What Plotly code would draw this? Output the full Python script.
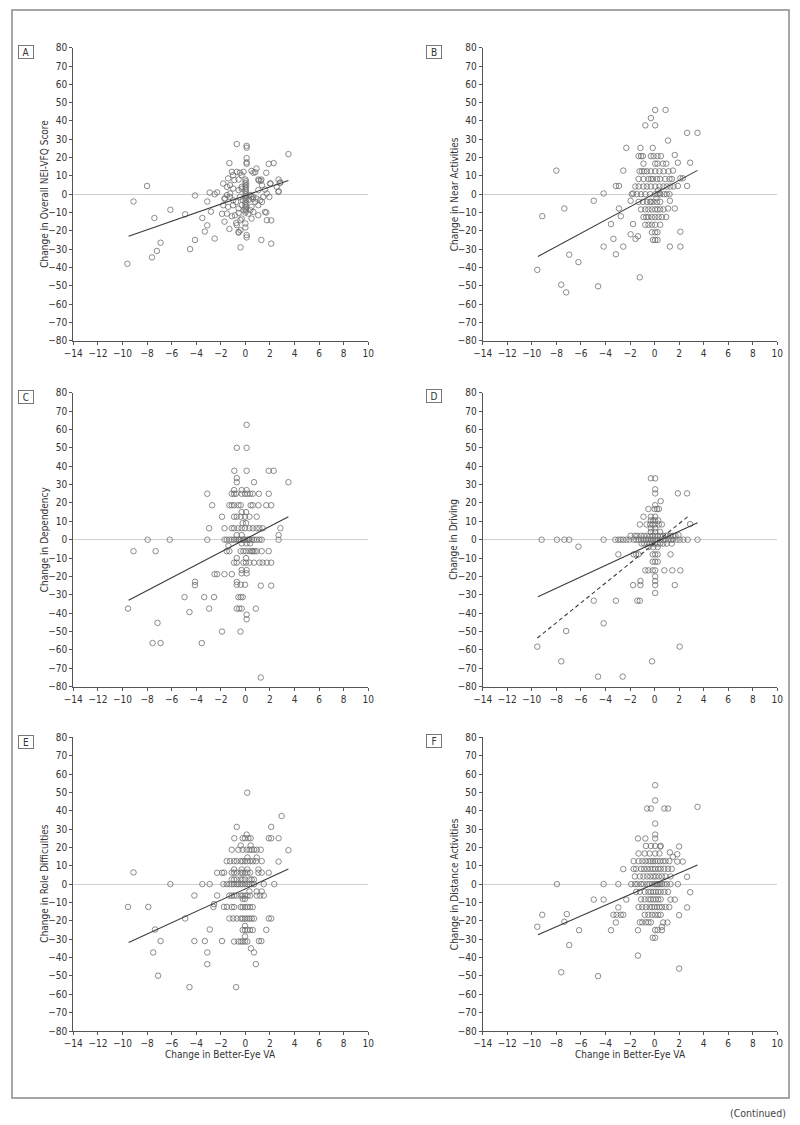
import plotly.graph_objects as go

W, H = 800, 1125

# ---------------- data ----------------
x_ticks = [-14, -12, -10, -8, -6, -4, -2, 0, 2, 4, 6, 8, 10]
y_ticks = [-80, -70, -60, -50, -40, -30, -20, -10, 0, 10, 20, 30, 40, 50, 60, 70, 80]

panel_letters = ["A", "B", "C", "D", "E", "F"]
y_titles = ["Change in Overall NEI-VFQ Score", "Change in Near Activities",
            "Change in Dependency", "Change in Driving",
            "Change in Role Difficulties", "Change in Distance Activities"]
x_title = "Change in Better-Eye VA"

a_pts = [(-8.0, 4.5), (-9.1, -4), (-9.6, -38), (-7.6, -34.5), (-7.2, -31), (-6.9, -26.5), (-7.4, -13),
         (-6.1, -8.5), (-4.9, -11), (-4.1, -0.7), (-4.1, -25), (-4.5, -30), (-3.5, -13), (-3.3, -20.4),
         (-3.1, -17), (-3.1, -4), (-2.9, 0.9), (-2.8, -9.5), (-2.5, 0), (-2.3, 1), (-2.5, -24.2),
         (-1.9, -10.7), (-1.7, -15), (-1.65, -2.4), (-1.3, -19), (-1.3, 17), (-0.7, 27.4), (0.1, 26.4),
         (0.1, 25.4), (0.1, 19.7), (0.1, 17.4), (0.1, 16.6), (-0.4, -29), (-0.55, -21), (0.1, -22.3),
         (0.1, -23.6), (0.8, 12), (0.9, 14), (1.9, 16.6), (2.3, 17), (3.5, 21.9), (2.7, 8), (2.05, 5.9),
         (2.7, 1.6), (2.85, 6.4), (1.7, 11.7), (1.3, -25), (2.1, -27), (2.1, -14.3), (1.7, -10), (1.1, 7.5),
         (1.3, 8),
         (0.5, 12.7), (0.65, 11.7), (-1.1, 12.2), (-0.7, 12.2), (-0.45, 11.7), (-0.15, 12.2), (-1.0, 10.4),
         (-0.3, 10.4), (-1.4, 8.6), (-0.9, 7.7), (-0.55, 8), (1.05, 8), (1.25, 7.3), (2.0, 5.8), (2.8, 6.2),
         (2.55, 4), (2.7, 1.3), (1.05, 2.2), (-1.8, 5.8), (-1.5, 4), (-1.25, 4.9), (-1.0, 3.1), (-0.55, 2.2),
         (-0.3, 4), (-1.7, -2.4), (-1.25, -1.5), (-1.0, -3.3), (-0.75, -4.2), (-0.45, -1.5), (-0.2, -3.3),
         (0.4, -0.5), (0.65, -1.5), (0.9, -2.4), (1.2, -3.3), (1.45, -1.5), (1.75, 0.4), (1.95, -1.5),
         (0.8, -4.2), (1.05, -6), (1.35, -4.2), (-1.8, -6), (-1.4, -6.9), (-1.0, -6), (-0.55, -7.8),
         (-0.3, -6), (-0.15, -8.7), (-1.5, -10.6), (-1.1, -12), (-0.85, -11.5), (-0.55, -10.2),
         (-0.3, -13.3), (-0.4, -14.2), (0.25, -10.6), (0.5, -13.3), (0.65, -9.7), (1.05, -11.5),
         (1.6, -9.7), (1.75, -14.2), (-0.75, -15.7), (-0.7, -16.9), (0.0, -16), (0.0, -18.2),
         (-0.55, -20.6), (-0.4, -19.7), (0.4, -8.7), (0.5, -6.9), (-1.25, 0.4), (-1.5, -0.5), (1.35, 4.9),
         (1.6, 2.5),
         (0.0, 8), (0.05, 7), (0.0, 6), (0.05, 5), (0.0, 4), (0.05, 3), (0.0, 2), (0.05, 1), (0.0, 0),
         (0.05, -1), (0.0, -2), (0.05, -3), (0.0, -4), (0.05, -5), (0.0, -6), (0.05, -7), (0.0, -8),
         (0.05, -9), (0.0, -10), (-0.3, 3), (0.5, -1.5), (0.6, -2.5), (0.3, -3)]

b_pts = [(-8.0, 12.9), (-9.15, -12), (-9.55, -41.3), (-7.6, -49.4), (-7.2, -53.6), (-6.95, -33), (-7.35, -7.8),
         (-6.2, -37.1), (-4.6, -50.3), (-4.95, -3.6), (-4.15, 0.4), (-4.15, -28.6), (-3.55, -16.3),
         (-3.35, -24.4), (-3.15, -32.8), (-3.15, 4.5), (-2.9, 4.5), (-2.9, -7.8), (-2.75, -12), (-2.55, 12.9),
         (-2.55, -28.6), (-2.3, 25.3), (-1.95, -3.6), (-1.95, -21.9), (-1.75, 0.4), (-1.75, -16.3),
         (-1.55, -24.4), (-1.35, -23), (-1.2, -45.4), (-1.15, 25.3), (-0.15, 25.3), (-0.3, 41.6), (0.05, 46),
         (0.9, 46), (-0.75, 37.6), (0.05, 37.6), (1.1, 29.3), (2.65, 33.5), (3.5, 33.5), (2.9, 17.2),
         (1.9, 17.2), (1.65, 21.4), (2.65, 4.5), (2.3, 8.7), (2.1, 8.7), (1.9, 4.5), (1.65, -7.8), (2.1, -20.5),
         (2.1, -28.6), (1.25, -28.6), (1.5, 12.9), (1.25, -3.6), (1.1, -7.8),
         (-1.3, 20.8), (-1.1, 20.8), (-0.95, 20.8), (-0.3, 20.8), (-0.08, 20.8), (0.24, 20.8), (0.52, 20.8),
         (-0.9, 16.7), (0.05, 16.7), (0.24, 16.7), (0.68, 16.7), (0.95, 16.7),
         (-1.22, 12.5), (-1.03, 12.5), (-0.84, 12.5), (-0.62, 12.5), (-0.3, 12.5), (0.05, 12.5), (0.4, 12.5),
         (0.73, 12.5), (1.14, 12.5),
         (-1.3, 8.3), (-0.9, 8.3), (-0.5, 8.3), (-0.3, 8.3), (-0.13, 8.3), (0.2, 8.3), (0.46, 8.3), (0.87, 8.3),
         (1.22, 8.3), (1.41, 8.3),
         (-1.57, 4.2), (-1.3, 4.2), (-0.9, 4.2), (-0.62, 4.2), (-0.3, 4.2), (0.05, 4.2), (0.4, 4.2), (0.73, 4.2),
         (1.0, 4.2), (1.28, 4.2), (1.55, 4.2),
         (-1.85, 0), (-1.44, 0), (-1.1, 0), (-0.76, 0), (-0.35, 0), (0.05, 0), (0.24, 0), (0.46, 0), (0.79, 0),
         (1.0, 0), (1.22, 0),
         (-1.3, -4.2), (-0.95, -4.2), (-0.62, -4.2), (-0.35, -4.2), (-0.08, -4.2), (0.2, -4.2), (0.46, -4.2),
         (-1.1, -8.3), (-0.76, -8.3), (-0.5, -8.3), (-0.22, -8.3), (0.05, -8.3), (0.24, -8.3), (0.46, -8.3),
         (0.73, -8.3),
         (-0.9, -12.5), (-0.68, -12.5), (-0.5, -12.5), (-0.22, -12.5), (0.05, -12.5), (0.33, -12.5),
         (0.6, -12.5), (0.95, -12.5),
         (-0.76, -16.7), (-0.5, -16.7), (-0.22, -16.7), (0.05, -16.7), (0.46, -16.7),
         (-0.22, -20.8), (0.05, -20.8), (0.24, -20.8), (-0.13, -25), (0.05, -25), (0.24, -25),
         (0.3, 2.1), (0.4, 0.5), (-0.3, -4.2), (0.15, -2.1)]

c_pts = [(0.1, 62.5), (-0.7, 50), (0.1, 50), (-0.9, 37.5), (0.1, 37.5), (1.9, 37.5), (2.3, 37.5), (-0.7, 33.5),
         (-0.7, 31.3), (0.7, 31.3), (3.5, 31.3), (-3.1, 25), (-2.7, 18.75), (-1.9, 12.5), (-2.95, 6.25),
         (-3.1, 0), (-7.95, 0), (-6.15, 0), (-9.1, -6.25), (-7.3, -6.25), (-9.55, -37.5), (-7.15, -45.3),
         (-7.55, -56.25), (-6.9, -56.25), (-3.55, -56.25), (-4.55, -39.4), (-2.95, -37.5), (-4.1, -22.9),
         (-4.1, -24.7), (-4.95, -31.25), (-3.35, -31.25), (-2.55, -31.25), (-1.9, -50), (-0.4, -50),
         (-2.5, -18.75), (-2.3, -18.75), (-1.7, -18.75), (-1.1, -18.75), (-0.7, -37.5), (-0.5, -37.5),
         (-0.3, -37.5), (0.1, -40.8), (0.1, -43.3), (0.85, -37.5), (1.25, -75), (2.1, -25), (1.25, -25),
         (1.9, -6.25), (2.1, -12.5), (1.75, -12.5), (1.4, -12.5), (1.15, -12.5), (2.7, 0), (2.7, 2.5),
         (2.85, 6.25), (2.1, 18.75), (1.7, 18.75), (1.1, 25), (1.9, 25), (0.1, 27),
         (-1.11, 25), (-0.92, 25), (-0.76, 25), (-0.3, 25), (-0.03, 25), (0.16, 25), (0.38, 25), (0.6, 25),
         (-0.92, 27), (-0.3, 27),
         (-1.3, 18.75), (-1.11, 18.75), (-0.92, 18.75), (-0.57, 18.75), (-0.38, 18.75), (0.43, 18.75),
         (0.6, 18.75), (1.06, 18.75),
         (-0.3, 15), (0.05, 15),
         (-0.92, 12.5), (-0.7, 12.5), (-0.38, 12.5), (-0.03, 12.5), (0.33, 12.5), (0.92, 12.5),
         (-0.22, 9), (0.05, 9),
         (-1.7, 6.25), (-1.11, 6.25), (-0.92, 6.25), (-0.57, 6.25), (-0.3, 6.25), (-0.03, 6.25), (0.33, 6.25),
         (0.6, 6.25), (0.92, 6.25), (1.14, 6.25), (1.41, 6.25),
         (-0.7, 2.5), (-0.3, 2.5),
         (-1.7, 0), (-1.52, 0), (-1.3, 0), (-1.11, 0), (-0.92, 0), (-0.76, 0), (-0.57, 0), (-0.38, 0),
         (-0.22, 0), (-0.03, 0), (0.16, 0), (0.33, 0), (0.51, 0), (0.7, 0), (0.92, 0), (1.14, 0), (1.33, 0),
         (-0.5, 0), (-0.1, 0), (0.25, 0),
         (-1.38, -3.3), (-0.3, -2), (0.1, -2), (0.38, -2),
         (-1.52, -6.25), (-1.3, -6.25), (-0.38, -6.25), (-0.16, -6.25), (0.05, -6.25), (0.33, -6.25),
         (0.51, -6.25), (0.6, -6.25), (0.75, -6.25), (0.92, -6.25), (1.33, -6.25),
         (-0.7, -10), (0.05, -10),
         (-0.92, -12.5), (-0.7, -12.5), (-0.16, -12.5), (0.05, -12.5), (0.33, -12.5), (0.7, -12.5),
         (-0.3, -16.5), (0.1, -16.5), (-0.3, -18.3), (0.1, -18.3),
         (-0.7, -23), (-0.7, -24.5), (-0.38, -24.5), (-0.03, -24.5),
         (-0.57, -31.25), (-0.38, -31.25), (-0.22, -31.25)]

d_pts = [(-9.2, 0), (-7.95, 0), (-7.35, 0), (-6.95, 0), (-4.15, 0), (-3.2, 0), (-2.95, 0), (-2.75, 0), (-2.55, 0),
         (-2.3, 0), (-2.05, 0), (-6.2, -3.8), (-2.95, -8), (-9.55, -58.2), (-7.6, -66.2), (-7.2, -49.7),
         (-4.6, -74.5), (-2.6, -74.5), (-4.15, -45.5), (-4.95, -33.2), (-3.15, -33.2), (-1.4, -33.2),
         (-1.2, -33.2), (-1.75, -24.7), (-1.15, -24.7), (-1.15, -22.5), (0.05, -24.7), (0.05, -22.5),
         (0.05, -20), (0.05, -29), (1.65, -24.7), (-0.2, -66.2), (2.05, -58.2), (0.8, -16.7), (1.45, -16.7),
         (2.1, -16.7), (-0.75, -16.7), (-0.5, -16.7), (-0.15, -16.7), (0.05, -16.7), (1.3, -8),
         (-0.3, 33.4), (0.05, 33.4), (0.05, 27.4), (0.05, 25.2), (1.9, 25.2), (2.65, 25.2), (0.5, 21),
         (-0.5, 16.7), (0.0, 16.7), (0.2, 16.7), (0.35, 16.7), (0.05, 18.8), (-0.9, 12.5), (-0.3, 12.5),
         (0.05, 12.5), (2.9, 8.5), (-1.2, 8.3), (-0.65, 8.3), (-0.35, 8.3), (-0.15, 8.3), (0.05, 8.3),
         (0.35, 8.3), (0.6, 8.3), (-0.3, 10.5), (-0.1, 10.5), (0.05, 10.5), (0.3, 10.5), (-0.3, 4.2),
         (0.05, 4.2), (0.45, 4.2), (-0.3, 6.2), (0.05, 6.2), (1.95, 2.5),
         (1.5, 0), (1.8, 0), (2.05, 0), (2.35, 0), (2.7, 0), (3.5, 0),
         (-1.7, 0), (-1.5, 0), (-1.3, 0), (-1.1, 0), (-0.9, 0), (-0.7, 0), (-0.5, 0), (-0.3, 0), (-0.15, 0),
         (0.05, 0), (0.25, 0), (0.45, 0), (0.7, 0), (0.9, 0), (1.15, 0), (1.35, 0),
         (-1.95, 2.1), (-1.6, 2.1), (-1.4, 2.1), (-1.1, 2.1), (-0.85, 2.1), (-0.6, 2.1), (-0.35, 2.1),
         (-0.15, 2.1), (0.05, 2.1), (0.25, 2.1), (0.45, 2.1), (0.7, 2.1), (0.9, 2.1), (1.05, 2.1), (1.3, 2.1),
         (1.5, 2.1), (1.7, 2.1),
         (-1.05, -2.1), (-0.85, -2.1), (-0.6, -2.1), (-0.4, -2.1), (-0.2, -2.1), (0.05, -2.1), (0.25, -2.1),
         (0.45, -2.1), (0.7, -2.1), (1.0, -2.1), (1.4, -2.1),
         (-0.5, -4), (-0.1, -4), (0.25, -4),
         (-1.7, -8), (-1.5, -8), (-1.3, -8), (-0.15, -8), (0.05, -8), (0.25, -8),
         (-0.15, -12), (0.05, -12), (0.25, -12)]

e_pts = [(0.15, 49.8), (2.95, 37.1), (-0.7, 31.2), (2.1, 31.2), (3.5, 18.5), (2.7, 12.3), (-9.1, 6.4),
         (-9.55, -12.4), (-7.9, -12.4), (-6.1, 0), (-3.5, 0), (-2.9, 0), (-4.15, -6.2), (-4.9, -18.7),
         (-7.35, -24.7), (-2.9, -24.7), (-6.9, -31), (-4.15, -31), (-3.3, -31), (-1.9, -31), (-7.5, -37.2),
         (-3.1, -37.2), (-3.1, -43.6), (-7.1, -49.9), (-4.55, -56.1), (-0.75, -56.1), (0.85, -43.6),
         (0.7, -37.2), (0.45, -35), (1.1, -31), (1.3, -31), (1.7, -24.9), (1.9, -18.7), (2.1, -18.7),
         (2.35, 0), (1.5, 0), (1.5, -6.2), (1.2, -6.2), (1.9, 6.2), (1.9, 25), (2.1, 25), (2.7, 25),
         (-0.9, 25), (-2.3, 6.2), (-1.9, 6.2), (-2.3, -6.2), (-2.6, -12.4), (-2.55, -10.9), (-1.75, -12.4),
         (-1.5, -12.4), (-1.3, -18.7), (-1.0, -18.7), (-0.7, -18.7), (0.1, 27),
         (-0.22, 25), (-0.03, 25), (0.24, 25), (0.43, 25), (-0.38, 21), (0.43, 21),
         (-1.11, 18.75), (-0.57, 18.75), (-0.22, 18.75), (0.1, 18.75), (0.33, 18.75), (0.51, 18.75),
         (0.7, 18.75), (0.92, 18.75), (1.25, 18.75),
         (0.16, 14.5), (0.92, 14.5),
         (-1.52, 12.5), (-1.25, 12.5), (-0.92, 12.5), (-0.7, 12.5), (-0.38, 12.5), (-0.22, 12.5),
         (-0.03, 12.5), (0.16, 12.5), (0.38, 12.5), (0.6, 12.5), (0.87, 12.5), (1.33, 12.5),
         (-0.92, 8), (-0.3, 8), (0.16, 8), (1.06, 8),
         (-1.73, 6.25), (-1.11, 6.25), (-0.92, 6.25), (-0.7, 6.25), (-0.38, 6.25), (-0.22, 6.25),
         (-0.03, 6.25), (0.16, 6.25), (0.38, 6.25), (1.06, 6.25), (1.33, 6.25),
         (-1.11, 2.5), (-0.92, 2.5), (-0.7, 2.5), (-0.38, 2.5), (-0.22, 2.5), (-0.03, 2.5), (0.33, 2.5),
         (0.51, 2.5), (0.7, 2.5),
         (-1.79, 0), (-1.52, 0), (-1.3, 0), (-1.11, 0), (-0.92, 0), (-0.7, 0), (-0.57, 0), (-0.38, 0),
         (-0.22, 0), (-0.03, 0), (0.16, 0), (0.33, 0), (0.51, 0), (0.7, 0),
         (0.33, -4), (0.92, -4), (1.33, -4),
         (-1.3, -6.25), (-1.11, -6.25), (-0.92, -6.25), (-0.7, -6.25), (-0.38, -6.25), (-0.22, -6.25),
         (-0.03, -6.25), (0.16, -6.25), (0.38, -6.25), (0.92, -6.25),
         (-0.22, -8), (-0.03, -8),
         (-1.11, -12.5), (-0.92, -12.5), (-0.38, -12.5), (-0.22, -12.5), (-0.03, -12.5), (0.16, -12.5),
         (0.38, -12.5), (0.6, -12.5),
         (-0.38, -18.75), (-0.22, -18.75), (-0.03, -18.75), (0.16, -18.75), (0.33, -18.75), (0.51, -18.75),
         (0.7, -18.75),
         (-0.03, -22.7), (-0.22, -25), (-0.03, -25), (0.16, -25), (0.38, -25), (0.6, -25), (-0.03, -28.5),
         (-0.92, -31.25), (-0.57, -31.25), (-0.38, -31.25), (-0.22, -31.25), (-0.03, -31.25), (0.16, -31.25)]

f_pts = [(0.05, 53.9), (0.05, 45.6), (-0.6, 41.2), (-0.3, 41.2), (0.8, 41.2), (1.1, 41.2), (3.5, 42.1),
         (0.05, 33), (0.05, 27), (0.05, 24.9), (-1.35, 24.9), (-0.75, 24.9), (0.45, 20.5), (2.0, 20.5),
         (1.25, 17.3), (-7.95, 0), (-4.15, 0), (-2.95, 0), (-9.55, -23.2), (-9.15, -16.7), (-7.15, -16.3),
         (-7.35, -20.5), (-6.95, -33.2), (-6.15, -25.1), (-7.6, -48), (-4.6, -50.1), (-4.95, -8.4),
         (-4.15, -8.4), (-3.55, -25.1), (-3.15, -20.9), (-3.35, -16.7), (-3.1, -16.7), (-2.75, -16.7),
         (-2.55, -16.7), (-2.95, -12.7), (-2.55, 8.2), (-2.3, -8.4), (-1.35, -38.9), (-1.35, -25.1),
         (2.0, -46), (2.0, -16.9), (2.9, -4.4), (2.65, -12.7), (2.65, 4), (1.9, 0), (1.3, -8.4), (1.65, -8.4),
         (0.7, -20.9), (1.05, -20.9), (0.05, -25), (0.05, -29.2), (-0.15, -29.2), (0.6, -25.1), (0.6, -23.2),
         (2.3, 12.3), (1.85, 16.3), (1.85, 12.3), (1.5, 14.9),
         (-0.7, 20.8), (-0.3, 20.8), (0.05, 20.8), (0.5, 20.8),
         (-1.3, 16.7), (-0.8, 16.7), (-0.4, 16.7), (0.05, 16.7), (0.4, 16.7),
         (-1.7, 12.5), (-1.3, 12.5), (-1.0, 12.5), (-0.75, 12.5), (-0.5, 12.5), (-0.3, 12.5), (-0.13, 12.5),
         (0.05, 12.5), (0.25, 12.5), (0.45, 12.5), (0.7, 12.5), (0.9, 12.5), (1.2, 12.5),
         (-1.7, 8.3), (-1.5, 8.3), (-1.1, 8.3), (-0.85, 8.3), (-0.6, 8.3), (-0.35, 8.3), (-0.13, 8.3),
         (0.05, 8.3), (0.3, 8.3), (0.5, 8.3), (0.8, 8.3), (1.1, 8.3), (1.4, 8.3),
         (-1.6, 4.2), (-1.2, 4.2), (-0.9, 4.2), (-0.6, 4.2), (-0.35, 4.2), (-0.1, 4.2), (0.1, 4.2),
         (0.35, 4.2), (0.6, 4.2), (0.9, 4.2), (1.3, 4.2),
         (-1.9, 0), (-1.6, 0), (-1.4, 0), (-1.1, 0), (-0.9, 0), (-0.6, 0), (-0.4, 0), (-0.2, 0), (0.0, 0),
         (0.1, 0), (0.2, 0), (0.3, 0), (0.45, 0), (0.6, 0), (0.8, 0), (1.0, 0), (1.3, 0),
         (-1.5, -4.2), (-1.2, -4.2), (-0.8, -4.2), (-0.5, -4.2), (-0.3, -4.2), (-0.1, -4.2), (0.1, -4.2),
         (0.3, -4.2), (0.5, -4.2), (0.8, -4.2), (1.1, -4.2),
         (-1.1, -8.3), (-0.8, -8.3), (-0.5, -8.3), (-0.3, -8.3), (-0.1, -8.3), (0.1, -8.3), (0.3, -8.3),
         (0.5, -8.3),
         (-1.3, -12.5), (-1.0, -12.5), (-0.7, -12.5), (-0.4, -12.5), (-0.2, -12.5), (0.0, -12.5),
         (0.2, -12.5), (0.4, -12.5), (0.6, -12.5), (0.9, -12.5), (1.2, -12.5),
         (-0.8, -16.7), (-0.5, -16.7), (-0.2, -16.7), (0.05, -16.7), (0.3, -16.7), (0.5, -16.7),
         (-1.2, -20.8), (-1.0, -20.8), (-0.7, -20.8), (-0.5, -20.8), (-0.3, -20.8), (0.25, -25)]

# regression lines (endpoints)
fit_x = [-9.5, 3.5]
a_fit_y = [-23, 7.5]
b_fit_y = [-34, 13]
c_fit_y = [-33, 12.5]
d_fit_y = [-31, 9.2]
d_dash_x = [-9.55, 2.7]
d_dash_y = [-53.5, 12.5]
e_fit_y = [-31.8, 8.2]
f_fit_y = [-27.6, 10.4]

panels_pts = [a_pts, b_pts, c_pts, d_pts, e_pts, f_pts]
panels_fit = [a_fit_y, b_fit_y, c_fit_y, d_fit_y, e_fit_y, f_fit_y]

# ---------------- layout geometry (pixels) ----------------
col_px = [(73.3, 368.3), (482.7, 777.3)]
row_px = [(47.7, 340.7), (392.7, 686.7), (737.3, 1031.0)]
ytitle_px = [44.5, 454.0]
box_px = [(25.5, 52), (434, 52), (25.5, 396.5), (434, 395.5), (25.5, 741.5), (434, 741)]

FONT = "Liberation Sans Narrow, DejaVu Sans Condensed, Arial Narrow, sans-serif"
AXC = "#555555"
MARK = "#6e6e6e"

fig = go.Figure()
layout = {}
annotations = []

for i, pts in enumerate(panels_pts):
    r, c = divmod(i, 2)
    n = "" if i == 0 else str(i + 1)
    xs = [p[0] for p in pts]
    ys = [p[1] for p in pts]
    fig.add_trace(go.Scatter(x=xs, y=ys, mode="markers", xaxis="x" + n, yaxis="y" + n,
                             marker=dict(symbol="circle-open", size=5.5, color=MARK,
                                         line=dict(width=0.8, color=MARK)),
                             showlegend=False, hoverinfo="skip"))
    fig.add_trace(go.Scatter(x=fit_x, y=panels_fit[i], mode="lines", xaxis="x" + n, yaxis="y" + n,
                             line=dict(color="#3a3a3a", width=1.1), showlegend=False, hoverinfo="skip"))
    if i == 3:
        fig.add_trace(go.Scatter(x=d_dash_x, y=d_dash_y, mode="lines", xaxis="x" + n, yaxis="y" + n,
                                 line=dict(color="#3a3a3a", width=1.1, dash="4px,3px"),
                                 showlegend=False, hoverinfo="skip"))
    x0, x1 = col_px[c]
    y0, y1 = row_px[r]
    layout["xaxis" + n] = dict(domain=[x0 / W, x1 / W], anchor="y" + n, range=[-14, 10],
                               tickvals=x_ticks, ticks="outside", ticklen=3, tickwidth=1,
                               tickcolor=AXC, showline=True, linecolor=AXC, linewidth=1,
                               showgrid=False, zeroline=False,
                               tickfont=dict(family=FONT, size=10, color="#333333"))
    layout["yaxis" + n] = dict(domain=[1 - y1 / H, 1 - y0 / H], anchor="x" + n, range=[-80, 80],
                               tickvals=y_ticks, ticks="outside", ticklen=3, tickwidth=1,
                               tickcolor=AXC, showline=True, linecolor=AXC, linewidth=1,
                               showgrid=False, zeroline=True, zerolinecolor="#cfcfcf", zerolinewidth=1,
                               tickfont=dict(family=FONT, size=10, color="#333333"))
    annotations.append(dict(text=y_titles[i], textangle=-90, xref="paper", yref="paper",
                            x=ytitle_px[c] / W, y=1 - (y0 + y1) / 2 / H, showarrow=False,
                            xanchor="center", yanchor="middle",
                            font=dict(family=FONT, size=10, color="#333333")))
    bx, by = box_px[i]
    annotations.append(dict(text=panel_letters[i], xref="paper", yref="paper", x=bx / W, y=1 - by / H,
                            showarrow=False, xanchor="center", yanchor="middle", width=11, height=9,
                            borderpad=1.5, bordercolor="#777777", borderwidth=1,
                            font=dict(family=FONT, size=10, color="#333333")))
    if r == 2:
        annotations.append(dict(text=x_title, xref="paper", yref="paper", x=(x0 + x1) / 2 / W,
                                y=1 - 1054 / H, showarrow=False, xanchor="center", yanchor="middle",
                                font=dict(family=FONT, size=10, color="#333333")))

annotations.append(dict(text="(Continued)", xref="paper", yref="paper", x=788 / W, y=1 - 1113 / H,
                        showarrow=False, xanchor="right", yanchor="middle",
                        font=dict(family=FONT, size=10.5, color="#444444")))

fig.update_layout(
    width=W, height=H,
    margin=dict(l=0, r=0, t=0, b=0, autoexpand=False),
    paper_bgcolor="white", plot_bgcolor="white",
    annotations=annotations,
    shapes=[dict(type="rect", xref="paper", yref="paper", x0=12 / W, x1=789 / W,
                 y0=1 - 1098 / H, y1=1 - 10 / H, line=dict(color="#8a8a8a", width=1.5))],
    **layout,
)

fig.write_html("out.html", config={"displayModeBar": False},
               post_script="document.body.style.margin='0';document.body.style.padding='0';")
